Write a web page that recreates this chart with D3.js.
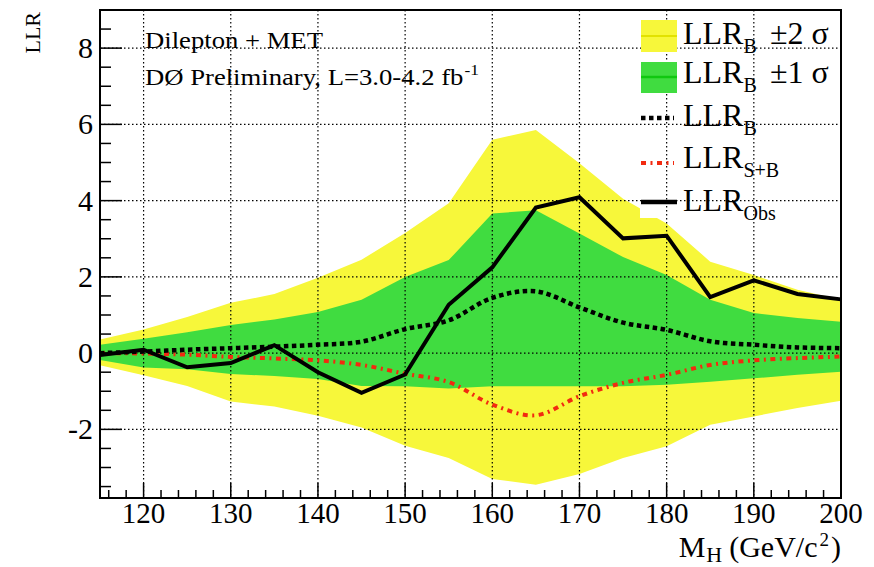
<!DOCTYPE html>
<html><head><meta charset="utf-8">
<script src="https://cdn.jsdelivr.net/npm/d3@7"></script>
<style>body{margin:0;background:#fff}svg{display:block}</style>
</head><body><svg id="c" width="874" height="567" font-family="'Liberation Serif', 'Times New Roman', serif"></svg>
<script>
const mass = [115,120,125,130,135,140,145,150,155,160,165,170,175,180,185,190,195,200];
const llrObs = [-0.05,0.09,-0.37,-0.26,0.21,-0.5,-1.04,-0.56,1.27,2.25,3.82,4.09,3.01,3.08,1.47,1.91,1.55,1.41];
const llrB = [0.0,0.04,0.09,0.13,0.17,0.22,0.3,0.63,0.86,1.45,1.62,1.2,0.8,0.61,0.31,0.22,0.15,0.13];
const llrSB = [0.0,-0.01,-0.04,-0.1,-0.14,-0.19,-0.31,-0.54,-0.76,-1.35,-1.63,-1.13,-0.78,-0.57,-0.31,-0.19,-0.13,-0.09];
const sig1Up = [0.22,0.38,0.55,0.74,0.88,1.08,1.4,2.0,2.44,3.66,3.75,3.14,2.52,2.05,1.4,1.05,0.92,0.82];
const sig1Dn = [-0.18,-0.38,-0.42,-0.55,-0.6,-0.68,-0.86,-0.87,-0.93,-0.87,-0.87,-0.87,-0.87,-0.83,-0.75,-0.66,-0.57,-0.49];
const sig2Up = [0.36,0.62,0.95,1.32,1.55,1.98,2.45,3.15,3.93,5.6,5.85,4.98,4.05,3.4,2.4,2.05,1.66,1.4];
const sig2Dn = [-0.32,-0.58,-0.86,-1.27,-1.4,-1.64,-1.95,-2.43,-2.75,-3.3,-3.45,-3.17,-2.75,-2.44,-1.88,-1.66,-1.44,-1.25];
const xTicks = [120,130,140,150,160,170,180,190,200];
const yTicks = [-2,0,2,4,6,8];

const FONT = "'Liberation Serif', 'Times New Roman', serif";
const svg = d3.select("#c");
const L=100,R=841,T=10,B=498;
const x = d3.scaleLinear().domain([115,200]).range([L,R]);
const y = d3.scaleLinear().domain([-3.8,9]).range([B,T]);
const YEL="#f7f73a", GRN="#40dc40", RED="#f22a10";

const area = (up,dn)=>d3.area().x((d,i)=>x(mass[i])).y0((d,i)=>y(dn[i])).y1((d,i)=>y(up[i]))(mass);
svg.append("path").attr("d",area(sig2Up,sig2Dn)).attr("fill",YEL);
svg.append("path").attr("d",area(sig1Up,sig1Dn)).attr("fill",GRN);

// legend white box
svg.append("rect").attr("x",640).attr("y",T).attr("width",R-640).attr("height",208).attr("fill","#fff");

// grid
const g = svg.append("g");
xTicks.filter(v=>v<200).forEach(v=>g.append("line").attr("x1",x(v)).attr("x2",x(v)).attr("y1",T).attr("y2",B)
  .attr("stroke","#000").attr("stroke-width",1.2).attr("stroke-dasharray","1.5,2.5"));
yTicks.forEach(v=>g.append("line").attr("x1",L).attr("x2",R).attr("y1",y(v)).attr("y2",y(v))
  .attr("stroke","#000").attr("stroke-width",1.2).attr("stroke-dasharray","1.5,2.5"));

const lineLin = vals=>d3.line().x((d,i)=>x(mass[i])).y((d,i)=>y(vals[i]))(mass);
const lineSm = vals=>d3.line().curve(d3.curveCatmullRom.alpha(0.5)).x((d,i)=>x(mass[i])).y((d,i)=>y(vals[i]))(mass);
svg.append("path").attr("d",lineSm(llrSB)).attr("fill","none").attr("stroke",RED).attr("stroke-width",4).attr("stroke-dasharray","5,4.5,2,4.5");
svg.append("path").attr("d",lineSm(llrB)).attr("fill","none").attr("stroke","#000").attr("stroke-width",4.5).attr("stroke-dasharray","4.5,3.5");
svg.append("path").attr("d",lineLin(llrObs)).attr("fill","none").attr("stroke","#000").attr("stroke-width",4).attr("stroke-linejoin","miter");

// frame
svg.append("rect").attr("x",L).attr("y",T).attr("width",R-L).attr("height",B-T).attr("fill","none").attr("stroke","#000").attr("stroke-width",2);

// axes
const xAx = svg.append("g").attr("transform",`translate(0,${B})`);
d3.range(116,201,2).forEach(v=>{
  const maj = v%10===0;
  xAx.append("line").attr("x1",x(v)).attr("x2",x(v)).attr("y1",0).attr("y2",maj?-15:-8).attr("stroke","#000").attr("stroke-width",1.5);
});
xTicks.forEach(v=>xAx.append("text").attr("x",x(v)).attr("y",25).attr("text-anchor","middle")
  .attr("font-family",FONT).attr("font-size",29).text(v));
const yAx = svg.append("g").attr("transform",`translate(${L},0)`);
d3.range(-3.5,9.01,0.5).forEach(v=>{
  const maj = Math.abs(v%2)<1e-9;
  yAx.append("line").attr("x1",0).attr("x2",maj?22:11).attr("y1",y(v)).attr("y2",y(v)).attr("stroke","#000").attr("stroke-width",1.5);
});
yTicks.forEach(v=>yAx.append("text").attr("x",-7).attr("y",y(v)+10).attr("text-anchor","end")
  .attr("font-family",FONT).attr("font-size",30).text(v));

// x-axis title built from separate pieces laid out left to right, right-aligned at the frame edge
const titleParts = [{t:"M",fs:30,dy:0},{t:"H",fs:22,dy:5},{t:"(GeV/c",fs:30,dy:0,gap:7},{t:"2",fs:19,dy:-11,gap:2},{t:")",fs:30,dy:0,gap:2}];
const xtG = svg.append("g");
let cx = 0;
titleParts.forEach(p=>{
  cx += (p.gap||1);
  const n = xtG.append("text").attr("x",cx).attr("y",p.dy).attr("font-family",FONT).attr("font-size",p.fs).text(p.t);
  cx += n.node().getComputedTextLength();
});
xtG.attr("transform",`translate(${R-cx},556.5)`);
svg.append("text").attr("transform","translate(40,12) rotate(-90)").attr("text-anchor","end").attr("font-family",FONT).attr("font-size",22).text("LLR");

// annotations
svg.append("text").attr("transform","translate(145,48) scale(1.16,1)").attr("font-family",FONT).attr("font-size",23).text("Dilepton + MET");
const t2 = svg.append("text").attr("transform","translate(145,85) scale(1.16,1)").attr("font-family",FONT).attr("font-size",23);
t2.append("tspan").text("DØ Preliminary, L=3.0-4.2 fb");
t2.append("tspan").attr("dx",1).attr("dy",-10).attr("font-size",15).text("-1");

// legend
const lg = svg.append("g");
lg.append("rect").attr("x",641).attr("y",20).attr("width",36).attr("height",32).attr("fill",YEL);
lg.append("line").attr("x1",641).attr("x2",677).attr("y1",36).attr("y2",36).attr("stroke","#e2e200").attr("stroke-width",2);
lg.append("rect").attr("x",641).attr("y",62).attr("width",36).attr("height",31).attr("fill",GRN);
lg.append("line").attr("x1",641).attr("x2",677).attr("y1",77).attr("y2",77).attr("stroke","#10c810").attr("stroke-width",2.5);
lg.append("line").attr("x1",641).attr("x2",674).attr("y1",118).attr("y2",118).attr("stroke","#000").attr("stroke-width",4.5).attr("stroke-dasharray","4.5,3.5");
lg.append("line").attr("x1",641).attr("x2",674).attr("y1",163).attr("y2",163).attr("stroke",RED).attr("stroke-width",4).attr("stroke-dasharray","5,4.5,2,4.5");
lg.append("line").attr("x1",641).attr("x2",677).attr("y1",202).attr("y2",202).attr("stroke","#000").attr("stroke-width",4.5);
const rows = [{y:44,sub:"B",extra:"±2 σ"},{y:83,sub:"B",extra:"±1 σ"},{y:126,sub:"B"},{y:168,sub:"S+B"},{y:211,sub:"Obs"}];
rows.forEach(r=>{
  const t = lg.append("text").attr("x",683).attr("y",r.y).attr("font-family",FONT).attr("font-size",32);
  t.append("tspan").text("LLR");
  t.append("tspan").attr("dy",9).attr("font-size",20).text(r.sub);
  if(r.extra) lg.append("text").attr("x",770).attr("y",r.y).attr("font-family",FONT).attr("font-size",32).text(r.extra);
});
</script></body></html>
